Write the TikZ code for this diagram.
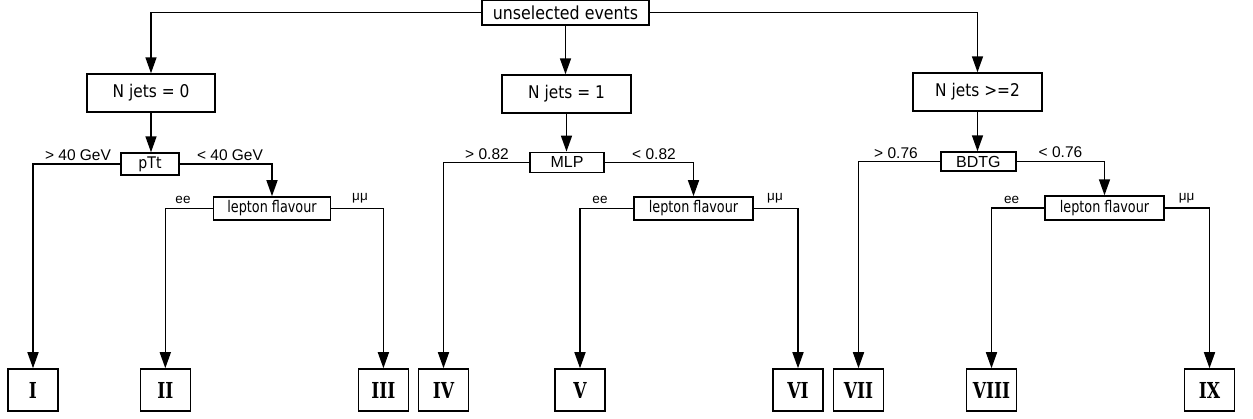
\documentclass[tikz,border=0pt]{standalone}
\usepackage{fontspec}
\setmainfont{Liberation Sans}
\newfontfamily\boxfont{DejaVu Sans}[FakeStretch=0.88]
\newfontfamily\lffont{DejaVu Sans}[FakeStretch=0.8]
\newfontfamily\numfont{DejaVu Serif}[FakeStretch=0.78]
\usetikzlibrary{arrows.meta}
\begin{document}
\begin{tikzpicture}[x=1pt,y=-1pt,
  box/.style={draw,line width=1.4pt,inner sep=0pt},
  leaf/.style={draw,line width=1.5pt,inner sep=0pt,minimum width=50pt,minimum height=42pt,font=\numfont\bfseries\fontsize{22}{22}\selectfont},
  lab/.style={inner sep=0pt,font=\fontsize{15.5}{15.5}\selectfont},
  slab/.style={inner sep=0pt,font=\fontsize{13.5}{13.5}\selectfont},
  lfbox/.style={box,font=\lffont\fontsize{16}{16}\selectfont},
  conn/.style={line width=1.5pt},
  arr/.style={conn,-{Triangle[length=16pt,width=11pt]}}]
\useasboundingbox (0,0) rectangle (1253,419);
% top
\node[box,minimum width=167pt,minimum height=25pt,font=\boxfont\fontsize{18}{18}\selectfont] (top) at (565.5,12.5) {unselected events};
% level 1
\node[box,minimum width=128pt,minimum height=38pt,font=\boxfont\fontsize{17.5}{17.5}\selectfont] (n0) at (151,93) {N jets = 0};
\node[box,minimum width=129pt,minimum height=38pt,font=\boxfont\fontsize{17.5}{17.5}\selectfont] (n1) at (566.5,94) {N jets = 1};
\node[box,minimum width=129pt,minimum height=38pt,font=\boxfont\fontsize{17.5}{17.5}\selectfont] (n2) at (977.5,92) {N jets >=2};
% level 2
\node[box,minimum width=58pt,minimum height=22pt,font=\boxfont\fontsize{16}{16}\selectfont] (ptt) at (150,164) {pTt};
\node[box,minimum width=74pt,minimum height=20pt,font=\fontsize{16}{16}\selectfont] (mlp) at (567,162.3) {MLP};
\node[box,minimum width=75pt,minimum height=19pt,font=\fontsize{16}{16}\selectfont] (bdtg) at (978.3,161.5) {BDTG};
% level 3
\node[lfbox,minimum width=117pt,minimum height=23pt] (lf1) at (272,208.4) {lepton flavour};
\node[lfbox,minimum width=119pt,minimum height=23pt] (lf2) at (693.5,208.4) {lepton flavour};
\node[lfbox,minimum width=119pt,minimum height=24pt] (lf3) at (1104.5,208) {lepton flavour};
% leaves
\node[leaf] (l1) at (33,390) {I};
\node[leaf] (l2) at (165.3,390) {II};
\node[leaf] (l3) at (383.4,390) {III};
\node[leaf] (l4) at (443.5,390) {IV};
\node[leaf] (l5) at (580,390) {V};
\node[leaf] (l6) at (798,390) {VI};
\node[leaf] (l7) at (858.5,390) {VII};
\node[leaf] (l8) at (991.5,390) {VIII};
\node[leaf] (l9) at (1209.5,390) {IX};
% labels
\node[lab] (g40) at (78,155) {> 40 GeV};
\node[lab] (s40) at (230,155) {< 40 GeV};
\node[lab] (g82) at (487,154) {> 0.82};
\node[lab] (s82) at (654,154) {< 0.82};
\node[lab] (g76) at (896,153) {> 0.76};
\node[lab] (s76) at (1060.5,152) {< 0.76};
\node[slab] (ee1) at (183,199.5) {ee};
\node[slab] (mm1) at (360,198.5) {μμ};
\node[slab] (ee2) at (600,199.5) {ee};
\node[slab] (mm2) at (775,198.5) {μμ};
\node[slab] (ee3) at (1011.7,199.5) {ee};
\node[slab] (mm3) at (1186.7,198.5) {μμ};
% connectors
\draw[arr] (top.west) -| (n0.north);
\draw[arr] (top.east) -| (n2.north);
\draw[arr] (top.south) -- (top.south |- n1.north);
\draw[arr] (n0.south) -- (n0.south |- ptt.north);
\draw[arr] (n1.south) -- (n1.south |- mlp.north);
\draw[arr] (n2.south) -- (n2.south |- bdtg.north);
\draw[arr] (ptt.west) -| (l1.north);
\draw[arr] (ptt.east) -| (lf1.north);
\draw[arr] (mlp.west) -| (l4.north);
\draw[arr] (mlp.east) -| (lf2.north);
\draw[arr] (bdtg.west) -| (l7.north);
\draw[arr] (bdtg.east) -| (lf3.north);
\draw[arr] (lf1.west) -| (l2.north);
\draw[arr] (lf1.east) -| (l3.north);
\draw[arr] (lf2.west) -| (l5.north);
\draw[arr] (lf2.east) -| (l6.north);
\draw[arr] (lf3.west) -| (l8.north);
\draw[arr] (lf3.east) -| (l9.north);
\end{tikzpicture}
\end{document}
